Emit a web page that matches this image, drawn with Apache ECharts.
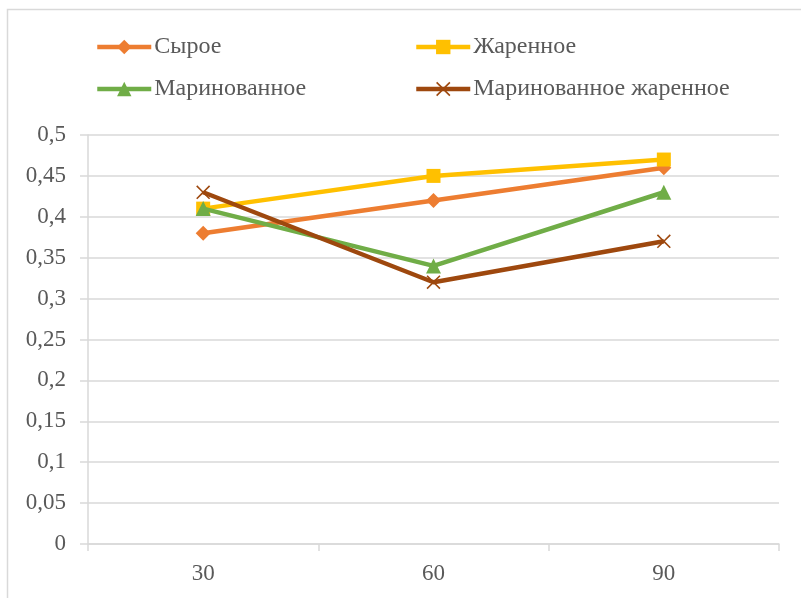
<!DOCTYPE html>
<html>
<head>
<meta charset="utf-8">
<script src="https://cdn.jsdelivr.net/npm/echarts@6/dist/echarts.min.js"></script>
<style>
  html, body { margin: 0; padding: 0; background: #fff; }
  #chart { width: 801px; height: 598px; }
</style>
</head>
<body>
<div id="chart"></div>
<script>
// Time points (minutes)
const categories = ['30', '60', '90'];

// Measured values per treatment
const rawValues = [0.38, 0.42, 0.46];
const friedValues = [0.41, 0.45, 0.47];
const marinatedValues = [0.41, 0.34, 0.43];
const marinatedFriedValues = [0.43, 0.32, 0.37];

const seriesNames = ['Сырое', 'Жаренное', 'Маринованное', 'Маринованное жаренное'];

const FONT = '"Liberation Serif", "DejaVu Serif", serif';
const TEXT = '#595959';
const GRID = '#d9d9d9';

// Thin "x" cross marker outline
const crossPath = 'path://M0,8L8,0L50,42L92,0L100,8L58,50L100,92L92,100L50,58L8,100L0,92L42,50Z';

const styles = [
  { color: '#ED7D31', symbol: 'diamond', size: 15 },
  { color: '#FFC000', symbol: 'rect', size: 14 },
  { color: '#70AD47', symbol: 'triangle', size: 15 },
  { color: '#9E480E', symbol: crossPath, size: 14 }
];
const dataSets = [rawValues, friedValues, marinatedValues, marinatedFriedValues];

const series = seriesNames.map((name, i) => ({
  name,
  type: 'line',
  data: dataSets[i],
  symbol: styles[i].symbol,
  symbolSize: styles[i].size,
  showAllSymbol: true,
  lineStyle: { color: styles[i].color, width: 4.5 },
  itemStyle: { color: styles[i].color },
  emphasis: { disabled: true },
  z: 2 + i
}));

const legendPos = [
  { left: 95, top: 35 },
  { left: 414, top: 35 },
  { left: 95, top: 77 },
  { left: 414, top: 77 }
];
const legends = seriesNames.map((name, i) => ({
  data: [name],
  left: legendPos[i].left,
  top: legendPos[i].top,
  itemWidth: 54,
  itemHeight: 18,
  itemGap: 0,
  padding: 0,
  lineStyle: { width: 4.5 },
  textStyle: { fontFamily: FONT, fontSize: 24, color: TEXT, padding: [0, 0, 0, -2] },
  selectedMode: false
}));

const chart = echarts.init(document.getElementById('chart'), null, { renderer: 'canvas' });
chart.setOption({
  backgroundColor: '#fff',
  animation: false,
  graphic: [{
    type: 'rect',
    shape: { x: 7.5, y: 9.5, width: 820, height: 620 },
    style: { fill: 'none', stroke: GRID, lineWidth: 1.5 },
    silent: true
  }],
  legend: legends,
  grid: { left: 88, right: 22, top: 135, bottom: 54 },
  xAxis: {
    type: 'category',
    data: categories,
    boundaryGap: true,
    axisLine: { lineStyle: { color: GRID, width: 1.5 } },
    axisTick: { show: true, length: 7, lineStyle: { color: GRID, width: 1.5 } },
    axisLabel: { fontFamily: FONT, fontSize: 23, color: TEXT, margin: 18 },
    splitLine: { show: false }
  },
  yAxis: {
    type: 'value',
    min: 0,
    max: 0.5,
    interval: 0.05,
    axisLine: { show: true, lineStyle: { color: GRID, width: 1.5 } },
    axisTick: { show: true, length: 8, lineStyle: { color: GRID, width: 1.5 } },
    axisLabel: {
      fontFamily: FONT, fontSize: 23, color: TEXT, margin: 22,
      formatter: v => String(Math.round(v * 100) / 100).replace('.', ',')
    },
    splitLine: { show: true, lineStyle: { color: GRID, width: 1.5 } }
  },
  series
});
</script>
</body>
</html>
